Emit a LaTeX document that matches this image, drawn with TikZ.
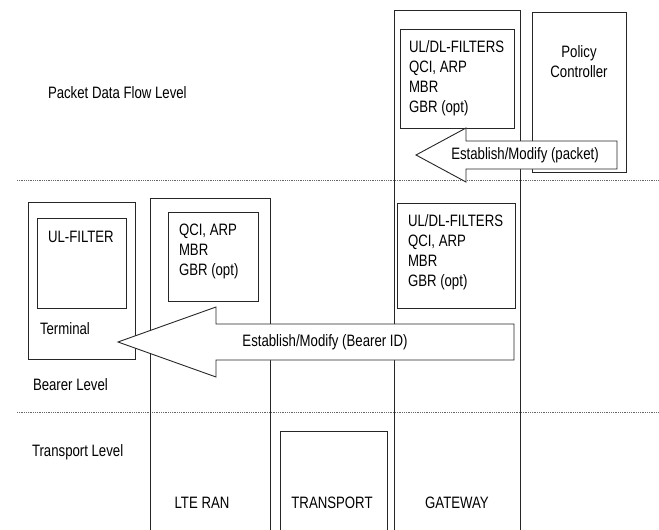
\documentclass[tikz,border=0pt]{standalone}
\usepackage{fontspec}
\setmainfont{Liberation Sans}[FakeStretch=0.80]
\begin{document}
\begin{tikzpicture}[x=1pt,y=-1pt,
  font=\fontsize{16.5}{20}\selectfont,
  every node/.style={inner sep=0pt, outer sep=0pt},
  edge/.style={draw=black!85, line width=0.9pt},
  box/.style={edge, fill=none},
  col/.style={draw=none},
  txt/.style={align=left, anchor=north west},
  lvl/.style={anchor=west},
  dotline/.style={draw=black!60, line width=0.6pt, dash pattern=on 0.7pt off 1.1pt},
  bigarrow/.style={edge, fill=white, line join=miter}]
\useasboundingbox (0,0) rectangle (659,530);

% level separators
\coordinate (d1a) at (17,180);  \coordinate (d1b) at (659,180);
\coordinate (d2a) at (17,412);  \coordinate (d2b) at (659,412);
\draw[dotline] (d1a) -- (d1b);
\draw[dotline] (d2a) -- (d2b);

% columns (open at the bottom)
\node[col, minimum width=126pt, minimum height=520pt] (gw) at (457,270) {};
\draw[edge] (gw.south west) -- (gw.north west) -- (gw.north east) -- (gw.south east);
\node[col, minimum width=120pt, minimum height=332pt] (lte) at (210,364) {};
\draw[edge] (lte.south west) -- (lte.north west) -- (lte.north east) -- (lte.south east);
\node[col, minimum width=107pt, minimum height=99pt] (tr) at (333.5,480.5) {};
\draw[edge] (tr.south west) -- (tr.north west) -- (tr.north east) -- (tr.south east);

% boxes
\node[box, minimum width=94pt, minimum height=160pt] (pol) at (579,92) {};
\node[box, minimum width=114pt, minimum height=99pt] (gwf1) at (457,78.5) {};
\node[box, minimum width=118pt, minimum height=105pt] (gwf2) at (456,255.5) {};
\node[box, minimum width=90pt, minimum height=89pt] (ltef) at (213,256.5) {};
\node[box, minimum width=107pt, minimum height=157pt] (term) at (81.5,280.5) {};
\node[box, minimum width=89pt, minimum height=90pt] (ulf) at (81.5,263) {};

% box texts
\node[txt] (gwt1) at (409,41) {UL/DL-FILTERS\\QCI, ARP\\MBR\\GBR (opt)};
\node[txt] (gwt2) at (408,215) {UL/DL-FILTERS\\QCI, ARP\\MBR\\GBR (opt)};
\node[txt] (ltet) at (179,224) {QCI, ARP\\MBR\\GBR (opt)};
\node[align=center, anchor=north] (polt) at (579,46) {Policy\\Controller};
\node[lvl] (ulft) at (48,237) {UL-FILTER};
\node[lvl] (termt) at (40,329) {Terminal};

% block arrows
\draw[bigarrow] (416,155) -- (466,128) -- (466,141) -- (617,141) -- (617,169)
  -- (466,169) -- (466,182) -- cycle;
\node (pkt) at (525,155) {Establish/Modify (packet)};
\draw[bigarrow] (118,342) -- (216,307) -- (216,324) -- (514,324) -- (514,360)
  -- (216,360) -- (216,377) -- cycle;
\node (brr) at (325,342) {Establish/Modify (Bearer ID)};

% level labels
\node[lvl] (l1) at (48,93) {Packet Data Flow Level};
\node[lvl] (l2) at (33,385) {Bearer Level};
\node[lvl] (l3) at (32,452) {Transport Level};

% column labels
\node (ltel) at (202,503) {LTE RAN};
\node (trl) at (332,503) {TRANSPORT};
\node (gwl) at (457,503) {GATEWAY};
\end{tikzpicture}
\end{document}
